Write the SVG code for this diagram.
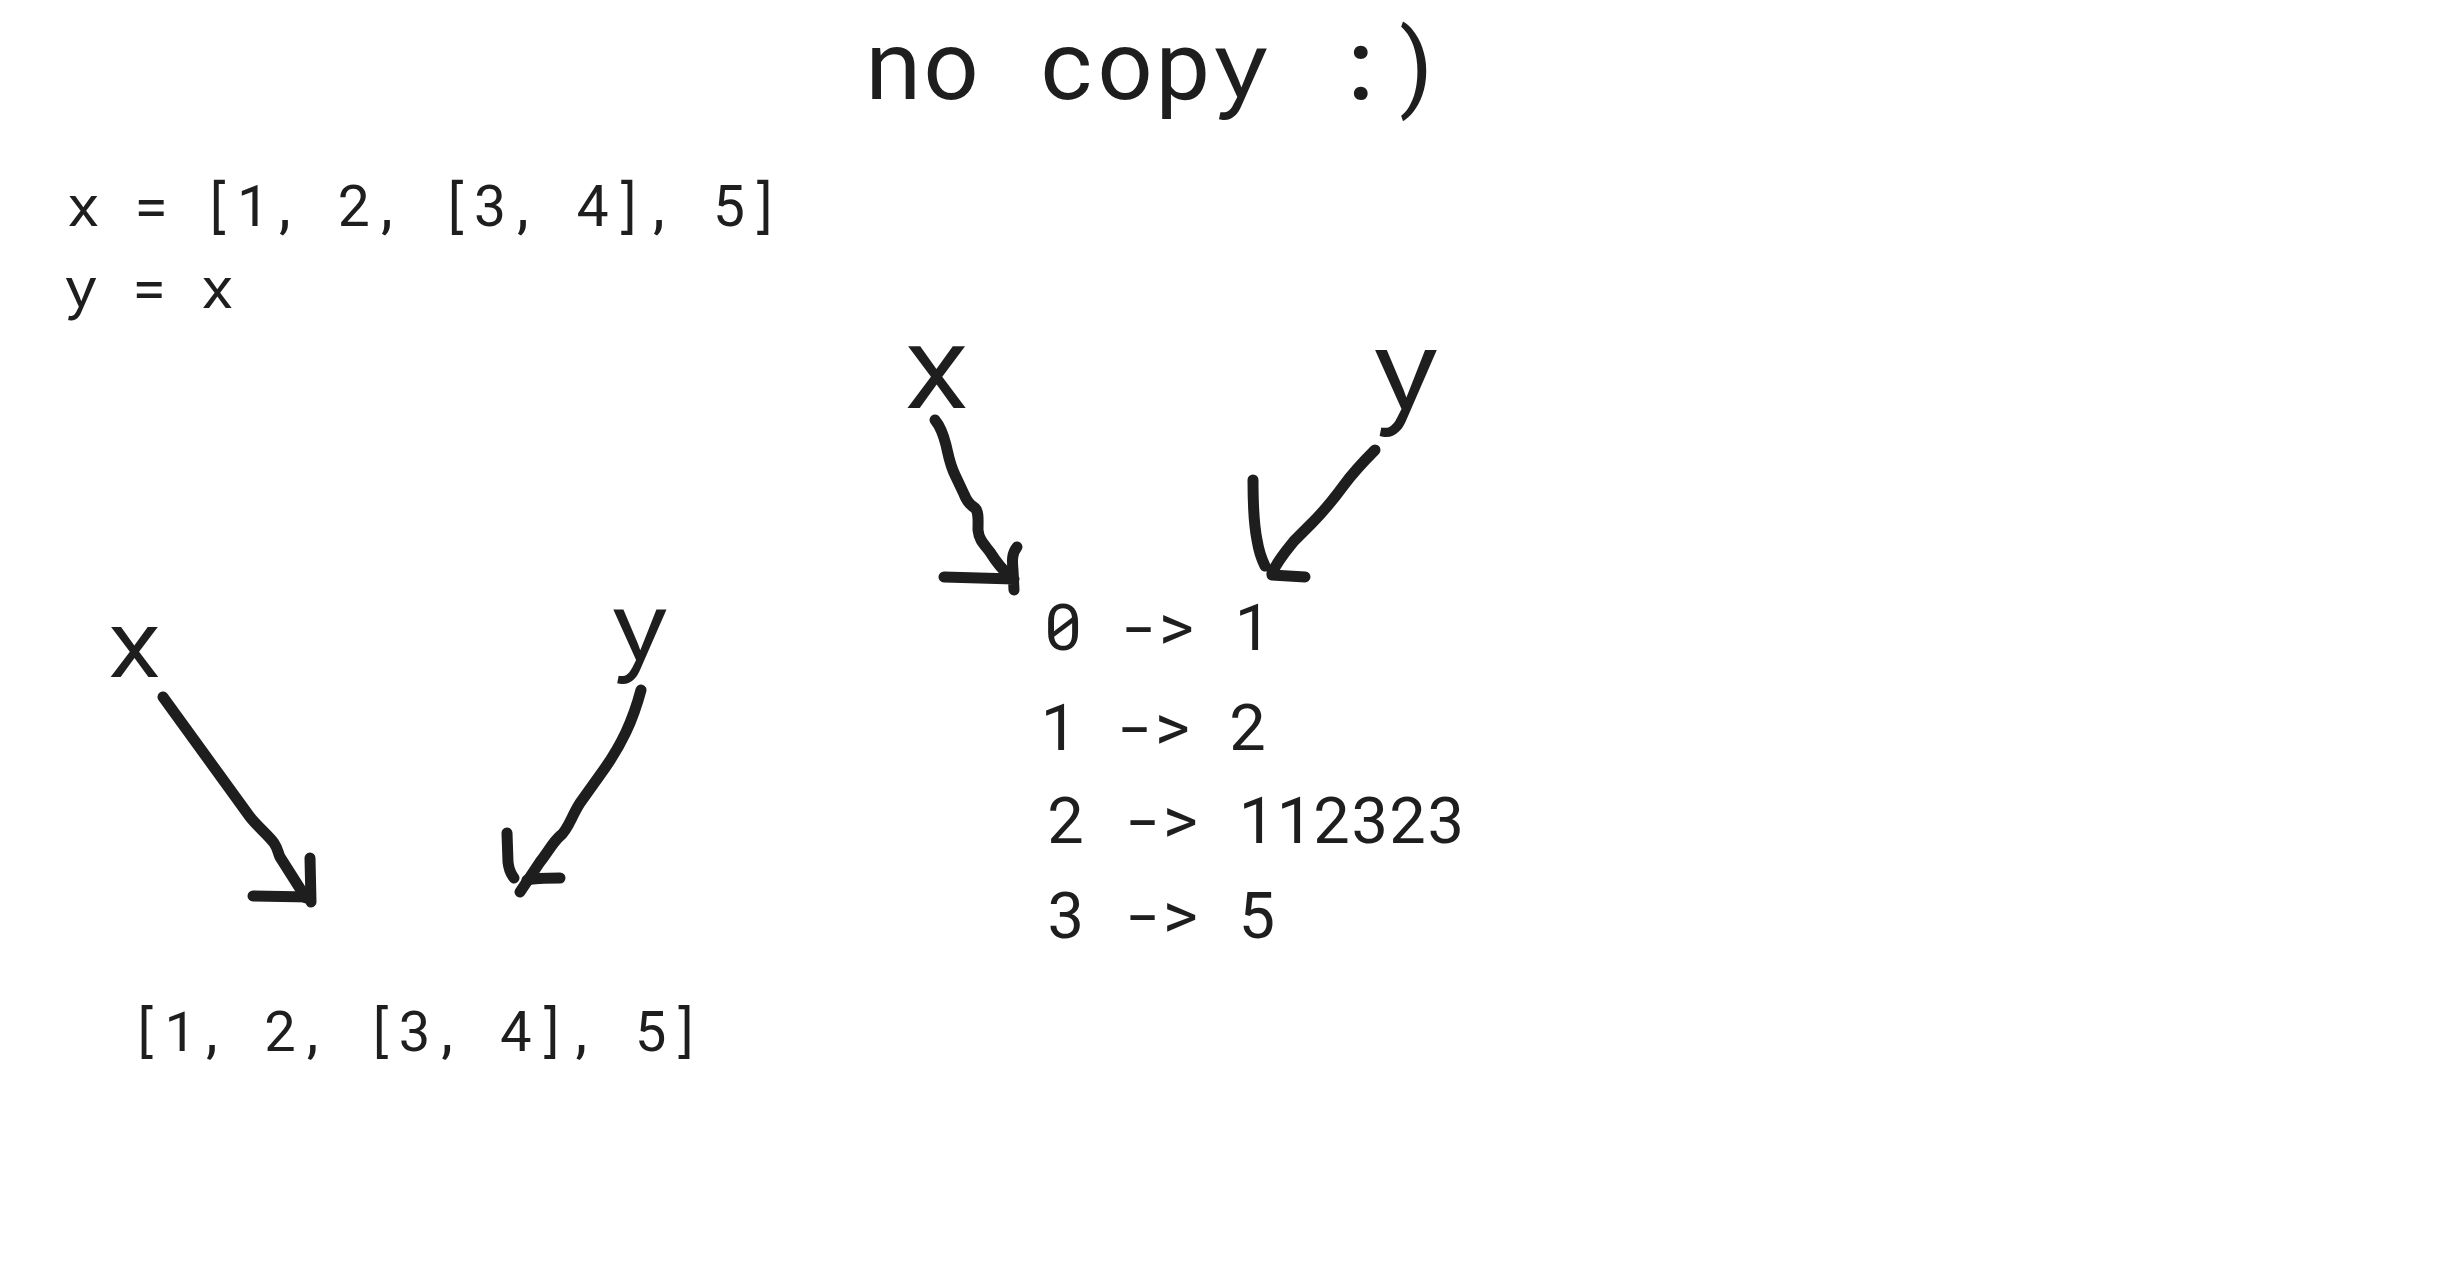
<svg xmlns="http://www.w3.org/2000/svg" width="2453" height="1277" viewBox="0 0 2453 1277">
<style>
  .t { font-family: "Roboto Mono", Roboto, "Liberation Sans", sans-serif; fill: #1e1e1e; text-anchor: middle; }
  .ink { fill: none; stroke: #1e1e1e; stroke-width: 11; stroke-linecap: round; stroke-linejoin: round; }
</style>
<rect width="2453" height="1277" fill="#ffffff"/>
<g id="title">
  <text class="t" font-size="97" y="99" x="893 951 1009 1067 1125 1183 1241 1299 1357 1415">no copy :)</text>
</g>
<g id="code">
  <text class="t" font-size="57" y="226" x="83 117 151 185 219 253 287 321 355 389 423 457 491 525 559 593 627 661 695 729 763">x = [1, 2, [3, 4], 5]</text>
  <text class="t" font-size="57" y="308" x="81 115 149 183 217">y = x</text>
</g>
<g id="label-x-left"><text class="t" font-size="95" x="134" y="677">x</text></g>
<g id="label-y-left"><text class="t" font-size="100" x="640" y="663">y</text></g>
<g id="list">
  <text class="t" font-size="56" y="1051" x="146.8 180.4 214 247.6 281.2 314.8 348.4 382 415.6 449.2 482.8 516.4 550 583.6 617.2 650.8 684.4">[1, 2, [3, 4], 5]</text>
</g>
<g id="label-x-top"><text class="t" font-size="116" x="936" y="408">x</text></g>
<g id="label-y-top"><text class="t" font-size="116" x="1406" y="412">y</text></g>
<g id="mapping">
  <text class="t" font-size="65" y="650" x="1063 1101 1139 1177 1215 1253">0 -&gt; 1</text>
  <text class="t" font-size="65" y="750" x="1059 1097 1135 1173 1211 1249">1 -&gt; 2</text>
  <text class="t" font-size="65" y="843" x="1067 1105 1143 1181 1219 1257 1295 1333 1371 1409 1447">2 -&gt; 112323</text>
  <text class="t" font-size="65" y="938" x="1067 1105 1143 1181 1219 1257">3 -&gt; 5</text>
</g>
<g id="connectors">
  <path class="ink" d="M163,697 L250,817 C258,827 268,835 274,843 C278,849 278,853 280,857 L306,898"/>
  <path class="ink" d="M253,896 L310,897 M310,858 L311,902"/>
  <path class="ink" d="M641,690 C633,720 622,745 600,775 L580,803 C571,817 568,830 560,836 C553,842 548,852 540,862 L520,892"/>
  <path class="ink" d="M507,833 L508,862 C509,872 512,875 514,878 M527,880 C535,878 545,878 560,878"/>
  <path class="ink" d="M935,420 C940,426 943,433 946,445 C949,458 950,465 955,475 L964,494 C967,502 970,505 975,508 C979,512 978,520 978,530 C979,540 984,544 990,552 C995,560 1000,568 1010,576"/>
  <path class="ink" d="M1017,547 C1012,553 1012,560 1013,570 L1014,590 M944,577 L1014,579"/>
  <path class="ink" d="M1375,450 C1365,460 1355,470 1344,485 C1333,500 1322,513 1312,523 L1294,541 C1286,551 1278,560 1272,573"/>
  <path class="ink" d="M1253,480 C1253,505 1254,525 1257,540 C1259,552 1262,560 1265,566 M1272,575 L1305,577"/>
</g>
</svg>
